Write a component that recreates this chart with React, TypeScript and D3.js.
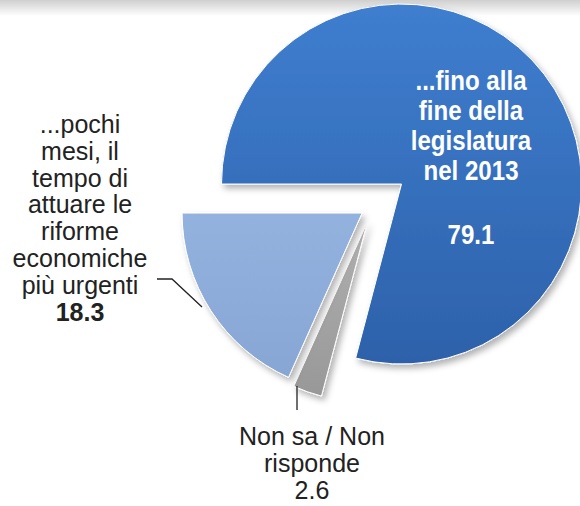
import { useRef, useEffect } from 'react'
import * as d3 from 'd3'

// slice order follows the clockwise drawing order, starting at 9 o'clock
const categories = ['fine legislatura', 'non sa', 'pochi mesi']
const values = [79.1, 2.6, 18.3]
const colorsTop = ['#3f7ecf', '#b0b0b0', '#93b2de']
const colorsBottom = ['#2d61aa', '#989898', '#87a6d4']
const explode = [36, 17, 13]

const blueLines = ['...fino alla', 'fine della', 'legislatura', 'nel 2013']
const leftLines = ['...pochi', 'mesi, il', 'tempo di', 'attuare le', 'riforme', 'economiche', 'più urgenti']
const bottomLines = ['Non sa / Non', 'risponde']

export default function App() {
  const svgRef = useRef<SVGSVGElement>(null)
  const width = 580
  const height = 506

  useEffect(() => {
    if (!svgRef.current) return
    const svg = d3.select(svgRef.current)
    svg.selectAll('*').remove()

    const defs = svg.append('defs')
    const topBand = defs.append('linearGradient').attr('id', 'topband').attr('x1', 0).attr('x2', 0).attr('y1', 0).attr('y2', 1)
    topBand.append('stop').attr('offset', '0%').attr('stop-color', '#cfcfcf')
    topBand.append('stop').attr('offset', '100%').attr('stop-color', '#ffffff')

    categories.forEach((c, i) => {
      const g = defs.append('linearGradient').attr('id', `grad-${i}`).attr('x1', 0).attr('x2', 0).attr('y1', 0).attr('y2', 1)
      g.append('stop').attr('offset', '0%').attr('stop-color', colorsTop[i])
      g.append('stop').attr('offset', '100%').attr('stop-color', colorsBottom[i])
    })

    defs.append('filter').attr('id', 'shadow').attr('x', '-20%').attr('y', '-20%').attr('width', '140%').attr('height', '140%')
      .append('feDropShadow')
      .attr('dx', 3).attr('dy', 4).attr('stdDeviation', 3)
      .attr('flood-color', '#000').attr('flood-opacity', 0.3)

    svg.append('rect').attr('width', width).attr('height', height).attr('fill', '#fff')
    svg.append('rect').attr('width', width).attr('height', 16).attr('fill', 'url(#topband)')

    const cx = 373
    const cy = 206
    const r = 180

    const pie = d3.pie<number>().sort(null).value((d) => d).startAngle(-Math.PI / 2).endAngle(Math.PI * 1.5)
    const arcs = pie(values)
    const arc = d3.arc<d3.PieArcDatum<number>>().innerRadius(0).outerRadius(r)

    const g = svg.append('g').attr('transform', `translate(${cx},${cy})`)

    g.selectAll('path')
      .data(arcs)
      .join('path')
      .attr('transform', (d, i) => {
        const mid = (d.startAngle + d.endAngle) / 2
        return `translate(${Math.sin(mid) * explode[i]},${-Math.cos(mid) * explode[i]})`
      })
      .attr('d', arc)
      .attr('fill', (_, i) => `url(#grad-${i})`)
      .attr('stroke', '#fff')
      .attr('stroke-width', 1)
      .attr('filter', 'url(#shadow)')

    const font = '"Liberation Sans", Arial, sans-serif'

    // label inside the big slice (condensed look: squeeze horizontally)
    const blue = svg.append('text')
      .attr('transform', 'translate(471,0) scale(0.86,1)')
      .attr('text-anchor', 'middle')
      .attr('font-family', font)
      .attr('font-weight', 'bold')
      .attr('font-size', 28)
      .attr('fill', '#ffffff')
    blueLines.forEach((t, i) => {
      blue.append('tspan').attr('x', 0).attr('y', 90 + i * 30).text(t)
    })
    blue.append('tspan').attr('x', 0).attr('y', 244).text(values[0].toFixed(1))

    // left label with leader
    const left = svg.append('text')
      .attr('text-anchor', 'middle')
      .attr('font-family', font)
      .attr('font-size', 25)
      .attr('fill', '#222')
    leftLines.forEach((t, i) => {
      left.append('tspan').attr('x', 80).attr('y', 133 + i * 26.8).text(t)
    })
    left.append('tspan').attr('x', 80).attr('y', 133 + leftLines.length * 26.8)
      .attr('font-weight', 'bold').text(values[2].toFixed(1))

    svg.append('path')
      .attr('d', d3.line()([[157, 279], [172, 279], [202, 307]]))
      .attr('fill', 'none')
      .attr('stroke', '#222')
      .attr('stroke-width', 1.3)

    // bottom label with leader
    svg.append('line')
      .attr('x1', 297).attr('x2', 297).attr('y1', 386).attr('y2', 410)
      .attr('stroke', '#222').attr('stroke-width', 1.3)

    const bottom = svg.append('text')
      .attr('text-anchor', 'middle')
      .attr('font-family', font)
      .attr('font-size', 25)
      .attr('fill', '#222')
    bottomLines.forEach((t, i) => {
      bottom.append('tspan').attr('x', 312).attr('y', 445 + i * 27).text(t)
    })
    bottom.append('tspan').attr('x', 312).attr('y', 445 + bottomLines.length * 27).text(values[1].toFixed(1))
  }, [])

  return (
    <svg
      ref={svgRef}
      width={width}
      height={height}
      style={{ position: 'absolute', left: 0, top: 0 }}
    />
  )
}
